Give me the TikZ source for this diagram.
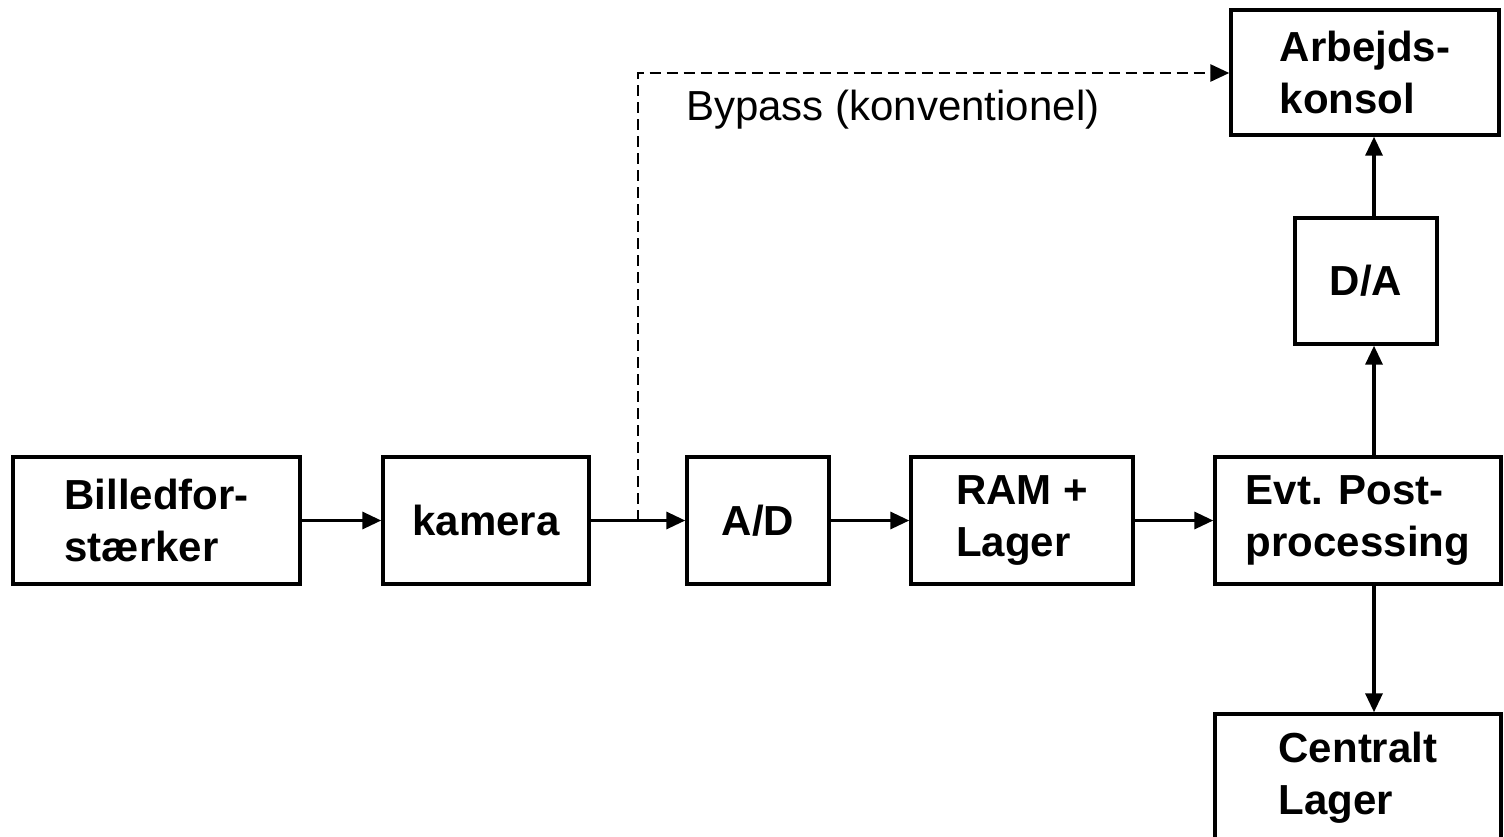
\documentclass[tikz,border=0pt]{standalone}
\usepackage{fontspec}
\setmainfont{Liberation Sans}
\usetikzlibrary{arrows.meta}
\begin{document}
\begin{tikzpicture}[x=1pt,y=-1pt,
  blk/.style={draw=black,line width=3.4pt,inner sep=0pt,align=left,
    font=\fontsize{42}{52}\selectfont\bfseries},
  arr/.style={line width=3.3pt,-{Triangle[length=19pt,width=17pt]}},
  byp/.style={line width=2.8pt,dash pattern=on 11pt off 6pt,-{Triangle[length=19pt,width=17pt]}}]
\useasboundingbox (0,0) rectangle (1504,836);
\node[blk,minimum width=287pt,minimum height=127pt] (bf) at (156.5,520.5) {Billedfor-\\stærker};
\node[blk,minimum width=206pt,minimum height=127pt] (kam) at (486,520.5) {kamera};
\node[blk,minimum width=142pt,minimum height=127pt] (ad) at (758,520.5) {A/D};
\node[blk,minimum width=222pt,minimum height=127pt] (ram) at (1022,520.5) {RAM +\\Lager};
\node[blk,minimum width=286pt,minimum height=127pt] (post) at (1358,520.5) {Evt. Post-\\processing};
\node[blk,minimum width=142pt,minimum height=126pt] (da) at (1366,281) {D/A};
\node[blk,minimum width=268pt,minimum height=125pt] (ak) at (1365,72.5) {Arbejds-\\konsol};
\node[blk,minimum width=286pt,minimum height=127pt] (cl) at (1358,777.5) {Centralt\\Lager};
\node[anchor=base west,inner sep=0pt,font=\fontsize{42}{50}\selectfont] (lbl) at (686,120) {Bypass (konventionel)};
\coordinate (vx) at (1374,0);
\coordinate (bx) at (638,0);
\coordinate (by) at (638,73);
\draw[arr] (bf) -- (kam);
\draw[arr] (kam) -- (ad);
\draw[arr] (ad) -- (ram);
\draw[arr] (ram) -- (post);
\draw[arr] (post.north -| vx) -- (da.south -| vx);
\draw[arr] (da.north -| vx) -- (ak.south -| vx);
\draw[arr] (post.south -| vx) -- (cl.north -| vx);
\draw[byp] (kam.east -| bx) -- (by) -- (by -| ak.west);
\end{tikzpicture}
\end{document}
